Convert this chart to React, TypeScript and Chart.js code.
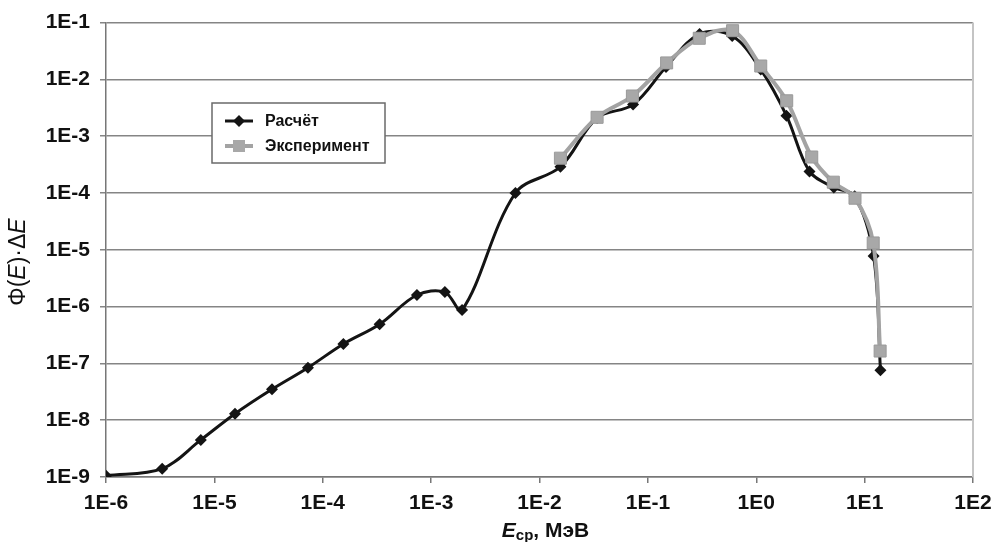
import React, { useEffect, useRef } from "react";
import { Chart, registerables } from "chart.js";

Chart.register(...registerables);

// Расчёт (calculation)
const calcE = [1e-6, 3.3e-6, 7.5e-6, 1.55e-5, 3.4e-5, 7.3e-5, 1.55e-4, 3.35e-4, 7.4e-4, 1.34e-3, 1.93e-3, 6.0e-3, 1.56e-2, 3.4e-2, 7.3e-2, 0.147, 0.3, 0.6, 1.1, 1.9, 3.1, 5.2, 8.1, 12.1, 14.0];
const calcV = [1.05e-9, 1.4e-9, 4.5e-9, 1.3e-8, 3.5e-8, 8.4e-8, 2.2e-7, 4.9e-7, 1.6e-6, 1.8e-6, 8.7e-7, 1.0e-4, 2.9e-4, 2.1e-3, 3.6e-3, 1.65e-2, 6.3e-2, 5.8e-2, 1.5e-2, 2.3e-3, 2.4e-4, 1.25e-4, 8.8e-5, 7.8e-6, 7.6e-8];

// Эксперимент (experiment)
const expE = [1.56e-2, 3.4e-2, 7.2e-2, 0.149, 0.298, 0.605, 1.1, 1.91, 3.25, 5.14, 8.15, 12.0, 13.9];
const expV = [4.1e-4, 2.15e-3, 5.1e-3, 1.95e-2, 5.3e-2, 7.2e-2, 1.72e-2, 4.2e-3, 4.3e-4, 1.55e-4, 8.1e-5, 1.32e-5, 1.65e-7];

const seriesLabels = ["Расчёт", "Эксперимент"];

const xTickExp = [-6, -5, -4, -3, -2, -1, 0, 1, 2];
const xTickLabels = ["1E-6", "1E-5", "1E-4", "1E-3", "1E-2", "1E-1", "1E0", "1E1", "1E2"];
const yTickExp = [-9, -8, -7, -6, -5, -4, -3, -2, -1];
const yTickLabels = ["1E-9", "1E-8", "1E-7", "1E-6", "1E-5", "1E-4", "1E-3", "1E-2", "1E-1"];

const NARROW = "'Liberation Sans Narrow', 'Arial Narrow', 'Liberation Sans', Arial, sans-serif";
const SANS = "'Liberation Sans', Arial, sans-serif";

type Seg = { text: string; font: string; dy?: number };

function drawRich(ctx: CanvasRenderingContext2D, segs: Seg[], cx: number, cy: number, rot: number) {
  ctx.save();
  ctx.translate(cx, cy);
  ctx.rotate(rot);
  ctx.textBaseline = "middle";
  ctx.textAlign = "left";
  ctx.fillStyle = "#111";
  let total = 0;
  const widths = segs.map((s) => {
    ctx.font = s.font;
    const w = ctx.measureText(s.text).width;
    total += w;
    return w;
  });
  let x = -total / 2;
  segs.forEach((s, i) => {
    ctx.font = s.font;
    ctx.fillText(s.text, x, s.dy || 0);
    x += widths[i];
  });
  ctx.restore();
}

const decorPlugin = {
  id: "decor",
  beforeDatasetsDraw(chart: any) {
    const { ctx, chartArea } = chart;
    ctx.save();
    ctx.strokeStyle = "#c4c4c4";
    ctx.lineWidth = 2;
    ctx.beginPath();
    ctx.moveTo(chartArea.right, chartArea.top);
    ctx.lineTo(chartArea.right, chartArea.bottom);
    ctx.stroke();
    ctx.restore();
  },
  afterDraw(chart: any) {
    const { ctx, chartArea } = chart;
    // Y axis title
    drawRich(
      ctx,
      [
        { text: "Φ(", font: `23px ${SANS}` },
        { text: "E", font: `italic 23px ${SANS}` },
        { text: ")·Δ", font: `23px ${SANS}` },
        { text: "E", font: `italic 23px ${SANS}` },
      ],
      19,
      262,
      -Math.PI / 2
    );
    // X axis title
    drawRich(
      ctx,
      [
        { text: "E", font: `italic bold 21px ${SANS}` },
        { text: "ср", font: `bold 15px ${SANS}`, dy: 5 },
        { text: ", МэВ", font: `bold 21px ${SANS}` },
      ],
      (chartArea.left + chartArea.right) / 2 + 6,
      531,
      0
    );
    // Legend
    const bx = 212, by = 103, bw = 173, bh = 60;
    ctx.save();
    ctx.fillStyle = "#fff";
    ctx.fillRect(bx, by, bw, bh);
    ctx.strokeStyle = "#6a6a6a";
    ctx.lineWidth = 1.5;
    ctx.strokeRect(bx, by, bw, bh);
    const ds = chart.data.datasets;
    const rows = [121, 146];
    ds.forEach((d: any, i: number) => {
      const y = rows[i];
      ctx.strokeStyle = d.borderColor;
      ctx.lineWidth = d.borderWidth;
      ctx.beginPath();
      ctx.moveTo(225, y);
      ctx.lineTo(253, y);
      ctx.stroke();
      ctx.fillStyle = d.pointBackgroundColor;
      ctx.beginPath();
      if (d.pointStyle === "rectRot") {
        const r = 6;
        ctx.moveTo(239, y - r);
        ctx.lineTo(239 + r, y);
        ctx.lineTo(239, y + r);
        ctx.lineTo(239 - r, y);
        ctx.closePath();
      } else {
        ctx.rect(239 - 6, y - 6, 12, 12);
      }
      ctx.fill();
      ctx.fillStyle = "#111";
      ctx.font = `bold 16px ${SANS}`;
      ctx.textBaseline = "middle";
      ctx.textAlign = "left";
      ctx.fillText(d.label, 265, y + 1);
    });
    ctx.restore();
  },
};

export default function App() {
  const ref = useRef<HTMLCanvasElement>(null);
  useEffect(() => {
    const chart = new Chart(ref.current as HTMLCanvasElement, {
      type: "line",
      data: {
        datasets: [
          {
            label: seriesLabels[0],
            data: calcE.map((x, i) => ({ x, y: calcV[i] })),
            borderColor: "#141414",
            backgroundColor: "#141414",
            pointBackgroundColor: "#141414",
            pointBorderColor: "#141414",
            borderWidth: 3,
            pointStyle: "rectRot",
            pointRadius: 6,
            pointBorderWidth: 0,
            tension: 0.35,
            order: 2,
          },
          {
            label: seriesLabels[1],
            data: expE.map((x, i) => ({ x, y: expV[i] })),
            borderColor: "#a3a3a3",
            backgroundColor: "#a8a8a8",
            pointBackgroundColor: "#a8a8a8",
            pointBorderColor: "#9a9a9a",
            borderWidth: 4,
            pointStyle: "rect",
            pointRadius: 8.5,
            pointBorderWidth: 1,
            tension: 0.35,
            order: 1,
          },
        ] as any,
      },
      options: {
        responsive: true,
        maintainAspectRatio: false,
        animation: false,
        events: [],
        layout: { padding: { top: 20, right: 18, left: 0, bottom: 0 } },
        plugins: { legend: { display: false }, tooltip: { enabled: false } },
        scales: {
          x: {
            type: "logarithmic",
            min: 1e-6,
            max: 1e2,
            afterBuildTicks: (s: any) => {
              s.ticks = xTickExp.map((e) => ({ value: Math.pow(10, e) }));
            },
            afterFit: (s: any) => {
              s.height = 65;
              s.paddingRight = 0;
              s.paddingLeft = 0;
            },
            grid: { display: true, drawOnChartArea: false, drawTicks: true, tickLength: 6, color: "#777", lineWidth: 1.5 },
            border: { display: true, color: "#777", width: 1.5 },
            ticks: {
              autoSkip: false,
              maxRotation: 0,
              padding: 8,
              color: "#111",
              font: { family: NARROW, size: 21, weight: "bold" },
              callback: (v: any) => xTickLabels[xTickExp.indexOf(Math.round(Math.log10(Number(v))))],
            },
          },
          y: {
            type: "logarithmic",
            min: 1e-9,
            max: 1e-1,
            afterBuildTicks: (s: any) => {
              s.ticks = yTickExp.map((e) => ({ value: Math.pow(10, e) }));
            },
            afterFit: (s: any) => {
              s.width = 106;
            },
            grid: { display: true, drawOnChartArea: true, drawTicks: true, tickLength: 6, color: "#858585", lineWidth: 1.5 },
            border: { display: true, color: "#777", width: 1.5 },
            ticks: {
              autoSkip: false,
              padding: 10,
              color: "#111",
              font: { family: NARROW, size: 21, weight: "bold" },
              callback: (v: any) => yTickLabels[yTickExp.indexOf(Math.round(Math.log10(Number(v))))],
            },
          },
        },
      } as any,
      plugins: [decorPlugin],
    });
    return () => chart.destroy();
  }, []);
  return (
    <div style={{ position: "fixed", left: 0, top: 0, width: 991, height: 542, background: "#fff" }}>
      <canvas ref={ref} />
    </div>
  );
}
